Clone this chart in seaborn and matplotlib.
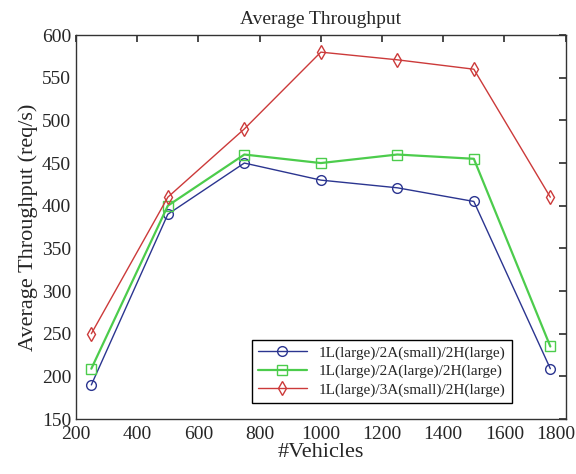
import pandas as pd
import matplotlib
matplotlib.use("Agg")
import matplotlib.pyplot as plt
import matplotlib.transforms as mtrans
import seaborn as sns

vehicles = [250, 500, 750, 1000, 1250, 1500, 1750]
thr_2a_small = [190, 390, 450, 430, 421, 405, 209]
thr_2a_large = [209, 400, 460, 450, 460, 455, 235]
thr_3a_small = [250, 410, 490, 580, 571, 560, 410]
labels = ["1L(large)/2A(small)/2H(large)",
          "1L(large)/2A(large)/2H(large)",
          "1L(large)/3A(small)/2H(large)"]

sns.set_theme(style="white")
plt.rcParams["font.family"] = ["Liberation Serif", "DejaVu Serif"]

df = pd.concat([
    pd.DataFrame({"vehicles": vehicles, "thr": vals, "config": lab})
    for vals, lab in zip([thr_2a_small, thr_2a_large, thr_3a_small], labels)
])

styles = {
    labels[0]: dict(color="#2b3590", marker="o", lw=1.0),
    labels[1]: dict(color="#4ccc4c", marker="s", lw=1.6),
    labels[2]: dict(color="#cc3a3a", marker="d", lw=1.0),
}

fig = plt.figure(figsize=(5.76, 4.74), dpi=100)
ax = fig.add_axes([0.132, 0.116, 0.85, 0.81])

for lab in labels:
    st = styles[lab]
    sub = df[df["config"] == lab]
    sns.lineplot(data=sub, x="vehicles", y="thr", ax=ax, label=lab,
                 color=st["color"], marker=st["marker"], linewidth=st["lw"],
                 markersize=7, markerfacecolor="none",
                 markeredgecolor=st["color"], markeredgewidth=1.0)

ax.set_xlim(200, 1800)
ax.set_ylim(150, 600)
ax.set_xticks(range(200, 1801, 200))
ax.set_yticks(range(150, 601, 50))
ax.tick_params(direction="in", top=True, right=True, length=5,
               labelsize=14, color="#333333")
ax.tick_params(axis="x", pad=5)
for sp in ax.spines.values():
    sp.set_color("#333333")
    sp.set_linewidth(1.0)

# keep the last x label inside the figure
last = ax.get_xticklabels()[-1]
last.set_transform(last.get_transform() +
                   mtrans.ScaledTranslation(-0.1, 0, fig.dpi_scale_trans))

ax.set_title("Average Throughput", fontsize=14, pad=8)
ax.set_xlabel("#Vehicles", fontsize=16, labelpad=0)
ax.set_ylabel("Average Throughput (req/s)", fontsize=16, labelpad=3)

leg = ax.legend(loc="lower right", bbox_to_anchor=(0.89, 0.042),
                borderaxespad=0, fontsize=11, handlelength=3.2,
                fancybox=False, framealpha=1, labelspacing=0.3,
                borderpad=0.4)
leg.get_frame().set_edgecolor("black")
leg.get_frame().set_linewidth(1.0)

fig.savefig("out.png", dpi=100)
